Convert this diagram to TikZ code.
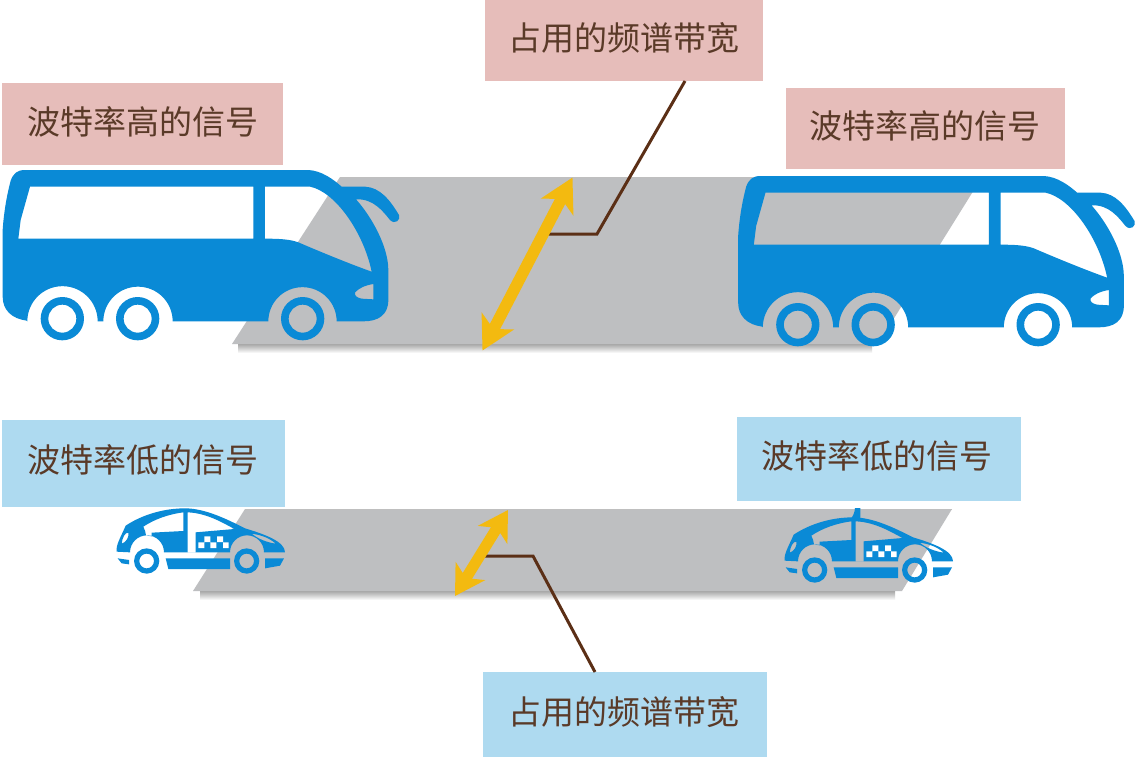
\documentclass[tikz,border=0pt]{standalone}
\usepackage{fontspec}
\setmainfont{Noto Sans CJK SC}
\usetikzlibrary{arrows.meta}
\definecolor{busblue}{HTML}{0A8AD6}
\definecolor{bandgray}{HTML}{BEBFC1}
\definecolor{pinkbox}{HTML}{E6BDBA}
\definecolor{bluebox}{HTML}{AEDAF0}
\definecolor{goldarrow}{HTML}{F3BA10}
\definecolor{leader}{HTML}{5B2F16}
\definecolor{labeltext}{HTML}{5A3A28}
\tikzset{
  lbl/.style={text=labeltext,font=\fontsize{33}{36}\selectfont,inner sep=0pt},
  band/.style={fill=bandgray,draw=none},
  goldline/.style={goldarrow,line width=11.5pt,{Stealth[length=33pt,width=36pt,inset=9pt]}-{Stealth[length=33pt,width=36pt,inset=9pt]}},
  goldsmall/.style={goldarrow,line width=11pt,{Stealth[length=29pt,width=34pt,inset=8pt]}-{Stealth[length=29pt,width=34pt,inset=8pt]}},
  leaderline/.style={leader,line width=3pt,line join=miter},
  zoomed/.style={x=0.33333pt,y=-0.33333pt}
}
\newcommand{\busshape}{%
  \fill[busblue,even odd rule]
    (80,482) .. controls (35,476) and (8,450) .. (8,410) -- (8,210)
    .. controls (12,150) and (22,100) .. (32,62) .. controls (40,40) and (52,30) .. (75,30)
    -- (925,30) .. controls (965,32) and (1000,58) .. (1025,80)
    -- (1095,80) .. controls (1140,82) and (1170,120) .. (1197,165)
    .. controls (1203,180) and (1185,195) .. (1170,180)
    .. controls (1150,155) and (1120,115) .. (1068,118)
    .. controls (1115,170) and (1165,260) .. (1165,330)
    -- (1165,420) .. controls (1165,465) and (1135,484) .. (1090,484)
    -- (1010,484) arc[start angle=0,end angle=-180,radius=102.5]
    -- (518,484) arc[start angle=0,end angle=-180,radius=104]
    -- (293,484) arc[start angle=0,end angle=-180,radius=105.5] -- cycle
    (90,80) -- (760,80) -- (760,236) -- (55,236) -- (62,180) -- cycle
    (795,80) -- (930,80) .. controls (1005,95) and (1090,215) .. (1115,335)
    .. controls (1050,312) and (960,275) .. (895,247)
    .. controls (870,238) and (840,236) .. (795,236) -- cycle
    (1120,372) -- (1120,418) -- (1085,416) .. controls (1072,414) and (1062,406) .. (1065,398)
    .. controls (1075,385) and (1095,376) .. (1120,372) -- cycle;
  \fill[busblue,even odd rule]
    (187,476) circle[radius=65] (187,476) circle[radius=42]
    (413,476) circle[radius=65] (413,476) circle[radius=42]
    (908,476) circle[radius=65] (908,476) circle[radius=42];
}
\newcommand{\carshape}{%
  \fill[busblue,even odd rule]
    (35,170) .. controls (32,150) and (48,125) .. (62,92)
    .. controls (110,60) and (175,40) .. (240,40)
    .. controls (300,40) and (365,72) .. (420,100)
    .. controls (480,118) and (540,140) .. (540,172)
    -- (477,172) arc[start angle=0,end angle=-180,radius=51]
    -- (177,172) arc[start angle=0,end angle=-180,radius=51]
    -- cycle
    (50,146) .. controls (52,128) and (60,112) .. (70,113) .. controls (73,125) and (64,142) .. (50,146) -- cycle
    (115,95) .. controls (150,72) and (190,58) .. (235,52) -- (235,108) -- (140,113)
    -- (140,124) -- (123,121) .. controls (122,112) and (120,105) .. (115,95) -- cycle
    (248,52) .. controls (300,54) and (345,78) .. (388,102) -- (272,112) -- (272,172) -- (248,172) -- cycle
    (440,116) .. controls (470,120) and (495,130) .. (512,146) .. controls (485,142) and (460,132) .. (440,116) -- cycle;
  \fill[white]
    (280,142) rectangle (298,159) (316,142) rectangle (334,159) (354,142) rectangle (371,159)
    (298,124) rectangle (316,141) (336,124) rectangle (354,141);
  \fill[busblue,even odd rule]
    (125,198) circle[radius=38] (125,198) circle[radius=22]
    (425,198) circle[radius=38] (425,198) circle[radius=22];
  \fill[busblue]
    (182,190) -- (375,190) -- (375,222) -- (190,222) -- cycle
    (480,190) -- (537,190) -- (525,212) -- (480,220) -- cycle
    (38,190) -- (72,195) -- (72,208) -- (50,205) -- cycle;
}
\begin{document}
\begin{tikzpicture}[x=1pt,y=-1pt]
\useasboundingbox (0,0) rectangle (1136,758);
\fill[white] (0,0) rectangle (1136,758);

% road bands with soft shadows
\shade[top color=black!35,bottom color=white] (238,344) rectangle (872,353);
\fill[band] (340,177) -- (982,177) -- (878,344) -- (232,344) -- cycle;
\draw[black!25,line width=1pt] (340,177) -- (982,177);
\shade[top color=black!35,bottom color=white] (200,591) rectangle (895,600);
\fill[band] (245,509) -- (952,509) -- (902,591) -- (193,591) -- cycle;
\draw[black!25,line width=1pt] (245,509) -- (952,509);

% vehicles
\begin{scope}[shift={(0,160)},zoomed]\busshape\end{scope}
\begin{scope}[shift={(735.5,166)},zoomed]\busshape\end{scope}
\begin{scope}[shift={(105,495)},zoomed]\carshape\end{scope}
\begin{scope}[shift={(773,504)},zoomed]
  \fill[busblue] (228,50) .. controls (240,40) and (245,25) .. (246,12) -- (262,12) -- (262,50) -- cycle;
  \carshape
\end{scope}

% label boxes
\fill[pinkbox] (2,83) rectangle (283,165);
\node[lbl] (hl) at (143,122) {波特率高的信号};
\fill[pinkbox] (786,88) rectangle (1065,169);
\node[lbl] (hr) at (925,126) {波特率高的信号};
\fill[pinkbox] (485,0) rectangle (763,81);
\coordinate (topbox) at (685,81);
\node[lbl] (ht) at (624,38) {占用的频谱带宽};
\fill[bluebox] (2,420) rectangle (285,507);
\node[lbl] (ll) at (143,460) {波特率低的信号};
\fill[bluebox] (737,417) rectangle (1021,501);
\node[lbl] (lr) at (877,456) {波特率低的信号};
\fill[bluebox] (483,672) rectangle (767,757);
\coordinate (botbox) at (595,672);
\node[lbl] (lb) at (624,712) {占用的频谱带宽};

% arrows and leaders
\coordinate (ua) at (572.5,177.5);
\coordinate (ub) at (482.5,350.5);
\coordinate (uj) at (597,234);
\coordinate (us) at (548,234);
\coordinate (la) at (508,510);
\coordinate (lb2) at (455,596);
\coordinate (lj) at (533,556);
\coordinate (ls) at (485,556);
\draw[leaderline] (topbox) -- (uj) -- (us);
\draw[goldline] (ub) -- (ua);
\draw[leaderline] (botbox) -- (lj) -- (ls);
\draw[goldsmall] (lb2) -- (la);
\end{tikzpicture}
\end{document}
